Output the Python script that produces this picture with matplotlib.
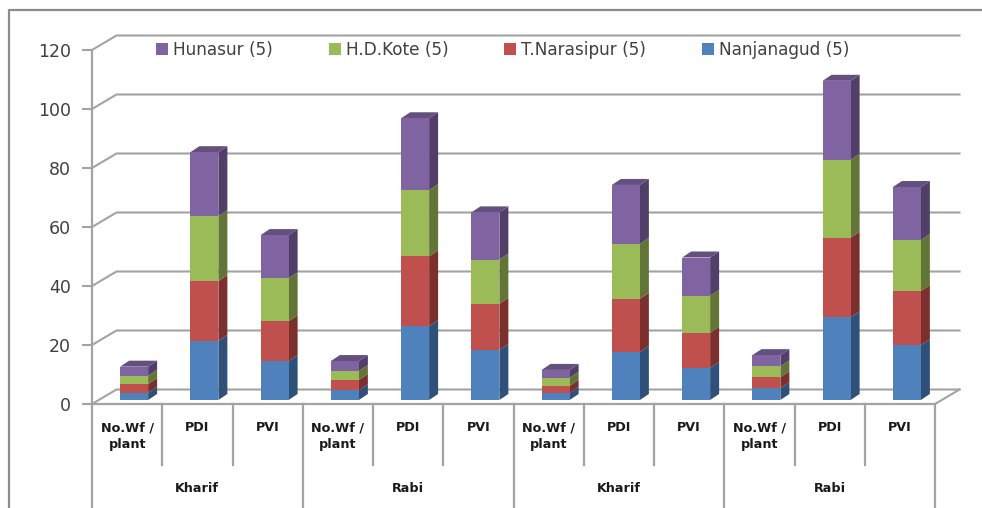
"""Stacked pseudo-3D column chart, whitefly incidence by taluk and season."""

import matplotlib
matplotlib.use("Agg")
import matplotlib.pyplot as plt
from matplotlib.lines import Line2D
from matplotlib.patches import Patch, Polygon

categories = ["No.Wf /\nplant", "PDI", "PVI"] * 4
seasons = ["Kharif", "Rabi", "Kharif", "Rabi"]
y_ticks = [0, 20, 40, 60, 80, 100, 120]

nanjanagud = [2.5, 20.0, 13.2, 3.3, 25.0, 17.0, 2.4, 16.3, 10.9, 4.0, 28.0, 18.6]
narasipur = [2.9, 20.3, 13.5, 3.5, 23.7, 15.6, 2.4, 18.0, 11.9, 3.7, 27.0, 18.3]
kote = [2.8, 22.0, 14.6, 3.0, 22.4, 15.0, 2.7, 18.6, 12.5, 3.7, 26.4, 17.3]
hunasur = [3.1, 21.7, 14.6, 3.4, 24.4, 16.0, 2.7, 20.0, 13.0, 3.8, 26.8, 18.0]

series = [
    ("Nanjanagud (5)", nanjanagud, "#4f81bd", "#2f5079"),
    ("T.Narasipur (5)", narasipur, "#c0504d", "#7c302e"),
    ("H.D.Kote (5)", kote, "#9bbb59", "#627536"),
    ("Hunasur (5)", hunasur, "#8064a2", "#523f69"),
]

W, H = 982, 508
LEFT, RIGHT, Y0, Y120 = 92, 935, 404, 50
PX_X = (RIGHT - LEFT) / 12
PX_Y = (Y0 - Y120) / 120
GRID = "#a3a3a3"
TEXT = "#404040"

# depth of the floor and of the bars, in data units
floor_dx, floor_dy = 24.5 / PX_X, 14.5 / PX_Y
bar_dx, bar_dy = 9 / PX_X, 6 / PX_Y
bar_w = 28 / PX_X
bar_shift = 7 / PX_X
bar_base = 4 / PX_Y


def py(px):
    """data y of a pixel row, for things drawn below the axis"""
    return (Y0 - px) / PX_Y


fig = plt.figure(figsize=(W / 100, H / 100), dpi=100)
ax = fig.add_axes([LEFT / W, 1 - Y0 / H, (RIGHT - LEFT) / W, (Y0 - Y120) / H])
ax.set_xlim(0, 12)
ax.set_ylim(0, 120)
ax.patch.set_visible(False)

# outer frame of the chart area
fig.add_artist(Line2D([9 / W, 9 / W, 1], [0, 1 - 10 / H, 1 - 10 / H], color="#8c8c8c", lw=1.6))

# back wall gridlines with the diagonal to the front axis
for tick in y_ticks:
    ax.plot([0, floor_dx, 12 + floor_dx], [tick, tick + floor_dy, tick + floor_dy],
            color=GRID, lw=1.5, clip_on=False, zorder=1)
ax.plot([12, 12 + floor_dx], [0, floor_dy], color=GRID, lw=1.5, clip_on=False, zorder=1)

# axis lines and the two-level category dividers
ax.plot([0, 12], [0, 0], color=GRID, lw=1.6, clip_on=False, zorder=2)
for pos in range(13):
    bottom = py(H) if pos % 3 == 0 else py(465)
    ax.plot([pos, pos], [0, bottom], color=GRID, lw=1.6, clip_on=False, zorder=2)
ax.plot([0, 0], [0, 120], color=GRID, lw=1.6, clip_on=False, zorder=2)

for spine in ax.spines.values():
    spine.set_visible(False)

ax.set_yticks(y_ticks)
ax.tick_params(axis="y", length=7, width=1.5, color=GRID, pad=8, labelsize=12.5, labelcolor=TEXT)
ax.set_xticks([i + 0.5 for i in range(12)], categories)
ax.tick_params(axis="x", length=0, pad=12.5, labelsize=9.2, labelcolor="#1a1a1a")
for label in ax.get_xticklabels():
    label.set_fontweight("bold")
    label.set_verticalalignment("top")
    label.set_linespacing(1.35)

for i, season in enumerate(seasons):
    ax.text(3 * i + 1.5, py(488), season, ha="center", va="center", fontsize=9.2,
            fontweight="bold", color="#1a1a1a", clip_on=False)

# stacked bars: front from ax.bar, side and top faces as offset polygons
bottoms = [bar_base] * 12
for s_idx, (name, values, color, dark) in enumerate(series):
    xs = [i + 0.5 + bar_shift for i in range(12)]
    ax.bar(xs, values, bar_w, bottom=bottoms, color=color, zorder=5, clip_on=False)
    for x, val, base in zip(xs, values, bottoms):
        xr = x + bar_w / 2
        top = base + val
        ax.add_patch(Polygon([(xr, base), (xr + bar_dx, base + bar_dy),
                              (xr + bar_dx, top + bar_dy), (xr, top)],
                             facecolor=dark, edgecolor="none", zorder=4, clip_on=False))
        if s_idx == len(series) - 1:
            xl = x - bar_w / 2
            ax.add_patch(Polygon([(xl, top), (xr, top), (xr + bar_dx, top + bar_dy),
                                  (xl + bar_dx, top + bar_dy)],
                                 facecolor="#64507f", edgecolor="none", zorder=4, clip_on=False))
    bottoms = [b + v for b, v in zip(bottoms, values)]

handles = [Patch(facecolor=c, label=n) for n, _, c, _ in reversed(series)]
fig.legend(handles=handles, loc="center left", bbox_to_anchor=(156 / W, 1 - 50 / H), ncol=4,
           frameon=False, fontsize=12.2, labelcolor=TEXT, borderpad=0, borderaxespad=0,
           handlelength=0.72, handleheight=0.72, handletextpad=0.3, columnspacing=3.28)

fig.savefig("out.png", dpi=100)
